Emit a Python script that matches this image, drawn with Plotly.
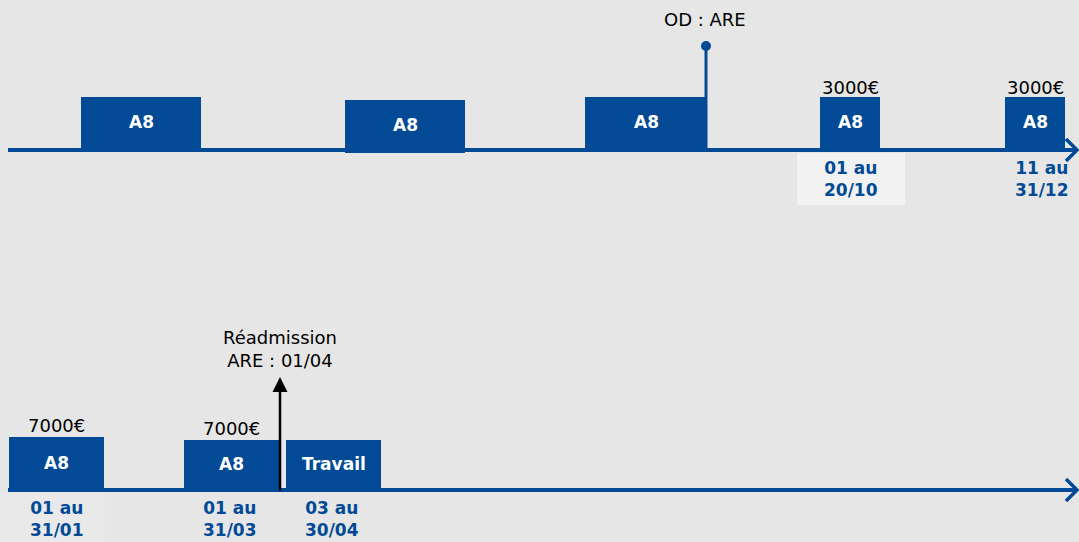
import plotly.graph_objects as go

# ---------------- data ----------------
# top timeline periods (timeline units)
top_labels = ["A8", "A8", "A8", "A8", "A8"]
top_start = [81, 345, 585, 820, 1005]
top_end = [201, 465, 707, 880, 1065]
top_top = [97, 100, 97, 97, 97]
top_bottom = [150, 153, 150, 150, 150]
top_amounts = ["", "", "", "3000€", "3000€"]
top_dates = ["", "", "", "01 au<br>20/10", "11 au<br>31/12"]
top_event = "OD : ARE"
top_event_x = 706

bot_labels = ["A8", "A8", "Travail"]
bot_start = [9, 184, 286]
bot_end = [104, 279, 381]
bot_top = [437, 440, 440]
bot_amounts = ["7000€", "7000€", ""]
bot_dates = ["01 au<br>31/01", "01 au<br>31/03", "03 au<br>30/04"]
bot_event = "Réadmission<br>ARE : 01/04"
bot_event_x = 280

BLUE = "#024a96"
BG = "#e6e6e6"
TOP_AXIS_Y = 150
BOT_AXIS_Y = 490
FONT = "DejaVu Sans"

fig = go.Figure()
shapes = []
ann = []

# light background boxes behind some date labels
shapes.append(dict(type="rect", x0=797, x1=905, y0=153, y1=205, fillcolor="#f2f2f2", line_width=0, layer="below"))
shapes.append(dict(type="rect", x0=0, x1=105, y0=493, y1=542, fillcolor="#e9e9e9", line_width=0, layer="below"))

# axis lines
for ay in (TOP_AXIS_Y, BOT_AXIS_Y):
    shapes.append(dict(type="line", x0=8, x1=1077, y0=ay, y1=ay, line=dict(color=BLUE, width=4)))
    shapes.append(dict(type="path", path=f"M 1066 {ay-11} L 1077 {ay} L 1066 {ay+11}",
                       line=dict(color=BLUE, width=3.5)))

# top bars
for lab, s, e, t, b, amt, dt in zip(top_labels, top_start, top_end, top_top, top_bottom, top_amounts, top_dates):
    shapes.append(dict(type="rect", x0=s, x1=e, y0=t, y1=b, fillcolor=BLUE, line_width=0))
    cx = (s + e) / 2
    ann.append(dict(x=cx, y=(t + b) / 2 - 2, text=f"<b>{lab}</b>", showarrow=False,
                    font=dict(color="white", size=17, family=FONT)))
    if amt:
        ann.append(dict(x=cx, y=t - 10, text=amt, showarrow=False,
                        font=dict(color="black", size=18, family=FONT)))
    if dt:
        ann.append(dict(x=cx + (7 if s > 1000 else 1), y=179, text=f"<b>{dt}</b>", showarrow=False,
                        font=dict(color=BLUE, size=17, family=FONT)))

# top event pin
shapes.append(dict(type="line", x0=top_event_x, x1=top_event_x, y0=46, y1=TOP_AXIS_Y, line=dict(color=BLUE, width=3)))
shapes.append(dict(type="circle", x0=top_event_x - 5, x1=top_event_x + 5, y0=41, y1=51, fillcolor=BLUE, line_width=0))
ann.append(dict(x=top_event_x - 1, y=19, text=top_event, showarrow=False, font=dict(color="black", size=18, family=FONT)))

# bottom bars
for lab, s, e, t, amt, dt in zip(bot_labels, bot_start, bot_end, bot_top, bot_amounts, bot_dates):
    shapes.append(dict(type="rect", x0=s, x1=e, y0=t, y1=BOT_AXIS_Y, fillcolor=BLUE, line_width=0))
    cx = (s + e) / 2
    ann.append(dict(x=cx, y=(t + BOT_AXIS_Y) / 2 - 1, text=f"<b>{lab}</b>", showarrow=False,
                    font=dict(color="white", size=17, family=FONT)))
    if amt:
        ann.append(dict(x=cx, y=t - 12, text=amt, showarrow=False,
                        font=dict(color="black", size=18, family=FONT)))
    ann.append(dict(x=cx - (2 if s > 100 else 0), y=519, text=f"<b>{dt}</b>", showarrow=False,
                    font=dict(color=BLUE, size=17, family=FONT)))

# bottom event arrow
ann.append(dict(x=bot_event_x, y=377, ax=bot_event_x, ay=BOT_AXIS_Y + 2, xref="x", yref="y", axref="x", ayref="y",
                showarrow=True, arrowhead=2, arrowsize=1.2, arrowwidth=2.5, arrowcolor="black", text=""))
ann.append(dict(x=bot_event_x, y=349, text=bot_event, showarrow=False,
                font=dict(color="black", size=18, family=FONT)))

# invisible trace to anchor the axes
fig.add_trace(go.Scatter(x=[0, 1079], y=[0, 542], mode="markers", marker=dict(opacity=0), hoverinfo="skip", showlegend=False))

fig.update_layout(
    width=1079, height=542,
    margin=dict(l=0, r=0, t=0, b=0),
    paper_bgcolor=BG, plot_bgcolor=BG,
    shapes=shapes, annotations=ann,
    xaxis=dict(range=[0, 1079], visible=False, fixedrange=True),
    yaxis=dict(range=[542, 0], visible=False, fixedrange=True),
    showlegend=False,
)

fig.write_html("out.html", config={"displayModeBar": False},
               post_script="document.body.style.margin='0';document.body.style.overflow='hidden';")
